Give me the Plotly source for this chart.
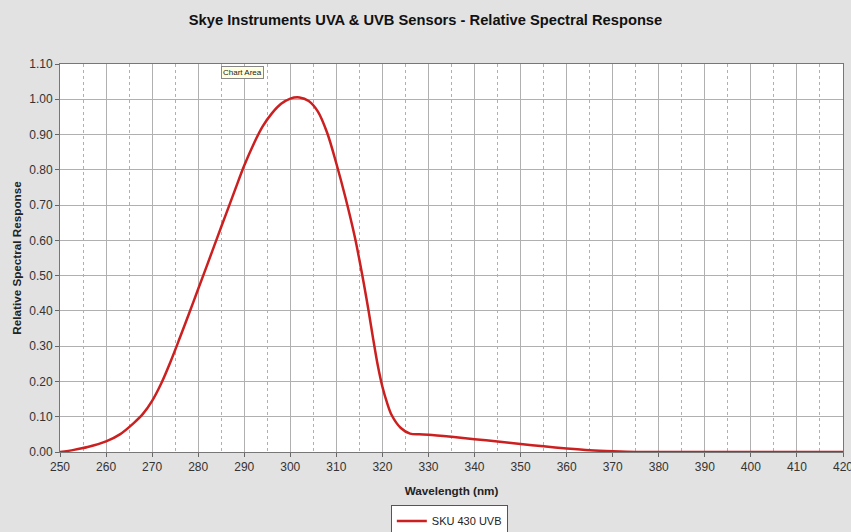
import plotly.graph_objects as go

wavelength = [250, 253, 256, 260, 263, 266, 268, 270, 272, 274, 276, 278, 280, 282, 284, 286, 288, 290,
              292, 294, 296, 298, 300, 302, 304, 306, 308, 310, 312, 314, 315, 316, 317, 318, 319, 320, 321, 322,
              324, 326, 328, 330, 335, 340, 345, 350, 355, 360, 365, 370, 375, 380, 390, 400, 410, 420]
response = [0.000, 0.006, 0.014, 0.030, 0.050, 0.082, 0.108, 0.145, 0.195, 0.256, 0.323, 0.392, 0.462, 0.532,
            0.603, 0.673, 0.743, 0.812, 0.872, 0.923, 0.960, 0.987, 1.002, 1.005, 0.995, 0.965, 0.905, 0.818,
            0.720, 0.610, 0.545, 0.475, 0.400, 0.320, 0.245, 0.185, 0.140, 0.105, 0.068, 0.052, 0.050, 0.049, 0.043,
            0.036, 0.030, 0.023, 0.016, 0.010, 0.005, 0.002, 0.000, 0.000, 0.000, 0.000, 0.000, 0.000]

fig = go.Figure()
fig.add_trace(go.Scatter(x=wavelength, y=response, mode="lines", name="SKU 430 UVB",
                         line=dict(color="#cc1f1f", width=2.5, shape="spline", smoothing=0.9)))

font_family = "Liberation Sans, Arial, sans-serif"
fig.update_layout(
    width=851, height=532,
    paper_bgcolor="#e2e2e2", plot_bgcolor="white",
    margin=dict(l=60, r=8, t=64, b=80),
    title=dict(text="<b>Skye Instruments UVA & UVB Sensors - Relative Spectral Response</b>",
               x=0.5, xanchor="center", y=0.962, yanchor="middle",
               font=dict(family=font_family, size=14.7, color="#111")),
    font=dict(family=font_family, size=12, color="#333"),
    showlegend=True,
    legend=dict(orientation="h", x=0.528, xanchor="center", xref="container",
                y=0.0207, yanchor="middle", yref="container",
                bgcolor="white", bordercolor="#555", borderwidth=1,
                font=dict(size=11, color="#222")),
    xaxis=dict(range=[250, 420], dtick=10, tick0=250, automargin=False, ticklabeloverflow="allow",
               title=dict(text="<b>Wavelength (nm)</b>", font=dict(size=11.7, color="#222"), standoff=13),
               showgrid=True, gridcolor="#b0b0b0", gridwidth=1,
               minor=dict(dtick=5, tick0=250, showgrid=True, griddash="dot", gridcolor="#b0b0b0"),
               ticks="outside", ticklen=4, tickcolor="#666",
               showline=True, linecolor="#777", linewidth=1, mirror=True, zeroline=False),
    yaxis=dict(range=[0, 1.10], dtick=0.10, tickformat=".2f", automargin=False,
               title=dict(text="<b>Relative Spectral Response</b>", font=dict(size=11.7, color="#222"), standoff=5),
               showgrid=True, gridcolor="#b0b0b0", gridwidth=1,
               ticks="outside", ticklen=4, tickcolor="#666",
               showline=True, linecolor="#777", linewidth=1, mirror=True, zeroline=False),
)

fig.add_annotation(text="Chart Area", xref="paper", yref="paper", x=0.2056, y=0.979,
                   xanchor="left", yanchor="middle", showarrow=False,
                   font=dict(size=8, color="#222"), bgcolor="#ffffe1", bordercolor="#888", borderwidth=1,
                   borderpad=1)

fig.write_html("out.html", config={"displayModeBar": False},
               post_script="document.body.style.margin='0';document.body.style.overflow='hidden';")
